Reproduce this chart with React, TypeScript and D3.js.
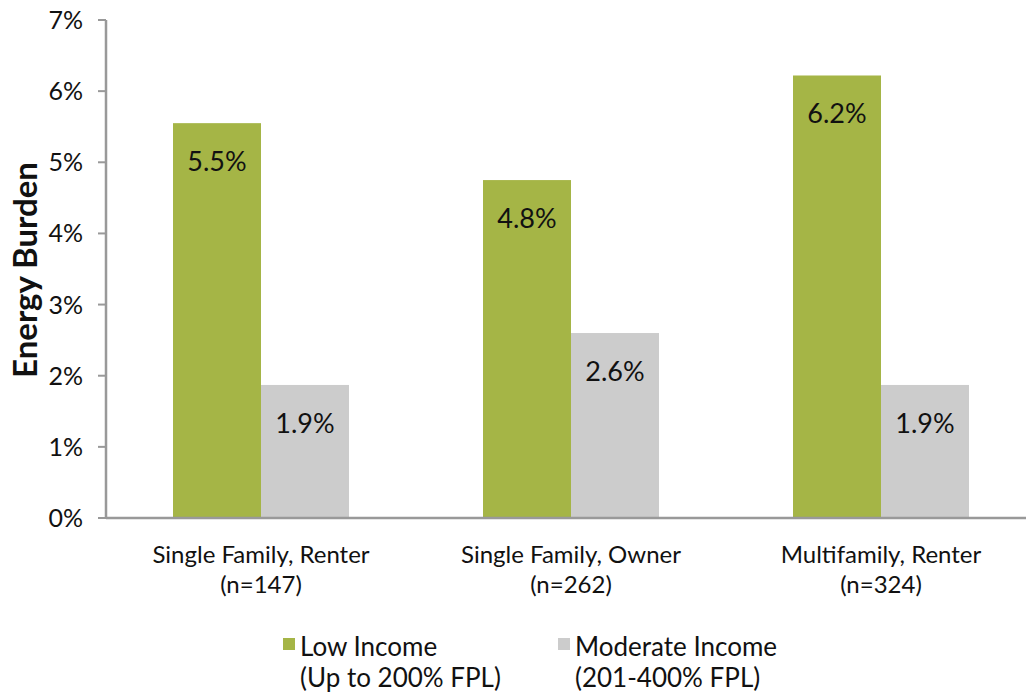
import React from "react";
import * as d3 from "d3";

const categories = ["Single Family, Renter", "Single Family, Owner", "Multifamily, Renter"];
const sampleSizes = ["(n=147)", "(n=262)", "(n=324)"];
const lowIncome = [0.0555, 0.0475, 0.0622];
const moderateIncome = [0.0187, 0.026, 0.0187];
const lowLabels = ["5.5%", "4.8%", "6.2%"];
const modLabels = ["1.9%", "2.6%", "1.9%"];
const yTicks = [0, 0.01, 0.02, 0.03, 0.04, 0.05, 0.06, 0.07];
const seriesNames = ["Low Income", "Moderate Income"];
const seriesSub = ["(Up to 200% FPL)", "(201-400% FPL)"];
const colors = ["#A5B546", "#CCCCCC"];

const W = 1026;
const H = 696;
const FONT = "Lato, 'Open Sans', sans-serif";

export default function App() {
  const left = 106;
  const x = d3.scaleBand<string>().domain(categories).range([left, left + 930]).paddingInner(0).paddingOuter(0);
  const y = d3.scaleLinear().domain([0, 0.07]).range([518, 20]);
  const inner = d3.scaleBand<number>().domain([0, 1]).range([0, 176]);
  const groupOffset = (x.bandwidth() - 176) / 2;
  const series = [lowIncome, moderateIncome];
  const labels = [lowLabels, modLabels];
  const legendX = [283, 558];

  return (
    <svg width={W} height={H} style={{ position: "absolute", left: 0, top: 0 }} fontFamily={FONT}>
      <rect width={W} height={H} fill="#fff" />
      {categories.map((c, i) => (
        <g key={c} transform={`translate(${(x(c) as number) + groupOffset},0)`}>
          {series.map((s, k) => (
            <g key={k}>
              <rect x={inner(k)} y={y(s[i])} width={inner.bandwidth()} height={y(0) - y(s[i])} fill={colors[k]} />
              <text x={(inner(k) as number) + inner.bandwidth() / 2} y={y(s[i]) + 48} textAnchor="middle" fontSize={27} fill="#111">
                {labels[k][i]}
              </text>
            </g>
          ))}
        </g>
      ))}
      <line x1={left} x2={W} y1={y(0)} y2={y(0)} stroke="#999" strokeWidth={2.5} />
      <line x1={left} x2={left} y1={y(0.07)} y2={y(0)} stroke="#999" strokeWidth={2.5} />
      {yTicks.map((t) => (
        <g key={t}>
          <line x1={left - 8} x2={left} y1={y(t)} y2={y(t)} stroke="#999" strokeWidth={2} />
          <text x={83} y={y(t) + 9} textAnchor="end" fontSize={25} fill="#111">
            {d3.format(".0%")(t)}
          </text>
        </g>
      ))}
      <text transform={`translate(37,270) rotate(-90)`} textAnchor="middle" fontSize={33} fontWeight="bold" fill="#111">
        Energy Burden
      </text>
      {categories.map((c, i) => (
        <g key={c}>
          <text x={(x(c) as number) + x.bandwidth() / 2} y={563} textAnchor="middle" fontSize={24} fill="#111">{c}</text>
          <text x={(x(c) as number) + x.bandwidth() / 2} y={593} textAnchor="middle" fontSize={24} fill="#111">{sampleSizes[i]}</text>
        </g>
      ))}
      {seriesNames.map((n, k) => (
        <g key={n}>
          <rect x={legendX[k]} y={638} width={12} height={12} fill={colors[k]} />
          <text x={legendX[k] + 17} y={656} fontSize={26} fill="#111">{n}</text>
          <text x={legendX[k] + 17} y={687} fontSize={26} fill="#111">{seriesSub[k]}</text>
        </g>
      ))}
    </svg>
  );
}
